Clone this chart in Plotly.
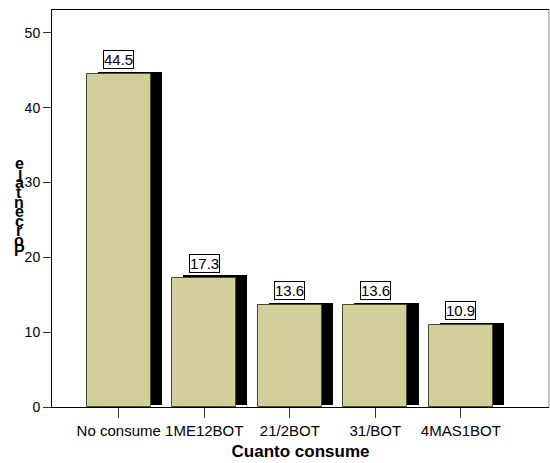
import plotly.graph_objects as go

categories = ["No consume", "1ME12BOT", "21/2BOT", "31/BOT", "4MAS1BOT"]
values = [44.5, 17.3, 13.6, 13.6, 10.9]
y_ticks = [0, 10, 20, 30, 40, 50]
y_title = "Porcentaje"
x_title = "Cuanto consume"

FONT = "Arial, Liberation Sans, sans-serif"
BAR_W = 0.75
SHADOW_DX = 0.13   # shadow shift to the right (category units)
SHADOW_DY = 0.28   # shadow shift upward (percent units)

W, H = 550, 463
ML, MR, MT, MB = 52, 1, 10, 56
pw, ph = W - ML - MR, H - MT - MB

xs = list(range(len(categories)))

fig = go.Figure()

# black drop shadow behind each bar
fig.add_trace(go.Bar(
    x=xs, y=values, base=[SHADOW_DY] * len(values),
    width=BAR_W, offset=-BAR_W / 2 + SHADOW_DX,
    marker=dict(color="black", line=dict(width=0)),
    hoverinfo="skip", showlegend=False,
))

# front bars
fig.add_trace(go.Bar(
    x=xs, y=values,
    width=BAR_W, offset=-BAR_W / 2,
    marker=dict(color="#D3CF9B", line=dict(color="#4a4a30", width=1)),
    showlegend=False,
))

# boxed value labels
for x, v in zip(xs, values):
    fig.add_annotation(
        x=x, y=v, xref="x", yref="y", text=f"{v:.1f}",
        showarrow=False, yanchor="bottom", yshift=5,
        font=dict(family=FONT, size=15, color="black"),
        bgcolor="white", bordercolor="black", borderwidth=1, borderpad=0,
    )

# vertical axis title, letters stacked bottom-to-top (pixel positions)
letter_step = 9.6
for i, ch in enumerate(y_title):
    px, py = 19, 250 - i * letter_step
    fig.add_annotation(
        x=(px - ML) / pw, y=1 - (py - MT) / ph, xref="paper", yref="paper",
        text=f"<b>{ch}</b>", showarrow=False,
        font=dict(family=FONT, size=16, color="black"),
        xanchor="center", yanchor="middle",
    )

fig.update_layout(
    width=W, height=H,
    margin=dict(l=ML, r=MR, t=MT, b=MB),
    paper_bgcolor="white", plot_bgcolor="white",
    barmode="overlay", bargap=0,
    font=dict(family=FONT, size=15, color="black"),
    xaxis=dict(
        range=[-0.78, 5.03], tickmode="array", tickvals=xs, ticktext=categories,
        tickangle=0, automargin=False,
        ticks="outside", ticklen=10, tickcolor="#333", tickwidth=1,
        showline=True, linecolor="black", linewidth=1, mirror=True,
        showgrid=False, zeroline=False,
        tickfont=dict(family=FONT, size=15, color="black"),
        title=dict(text=f"<b>{x_title}</b>", font=dict(family=FONT, size=17, color="black"), standoff=7),
    ),
    yaxis=dict(
        range=[0, 53.07], tickmode="array", tickvals=y_ticks, automargin=False,
        ticks="outside", ticklen=8, tickcolor="#333", tickwidth=1,
        showline=True, linecolor="black", linewidth=1,
        showgrid=False, zeroline=False,
        tickfont=dict(family=FONT, size=14, color="black"),
    ),
    shapes=[dict(type="line", xref="paper", yref="paper", x0=1, x1=1, y0=0, y1=1,
                 line=dict(color="#888", width=1))],
)

fig.write_html("out.html")
